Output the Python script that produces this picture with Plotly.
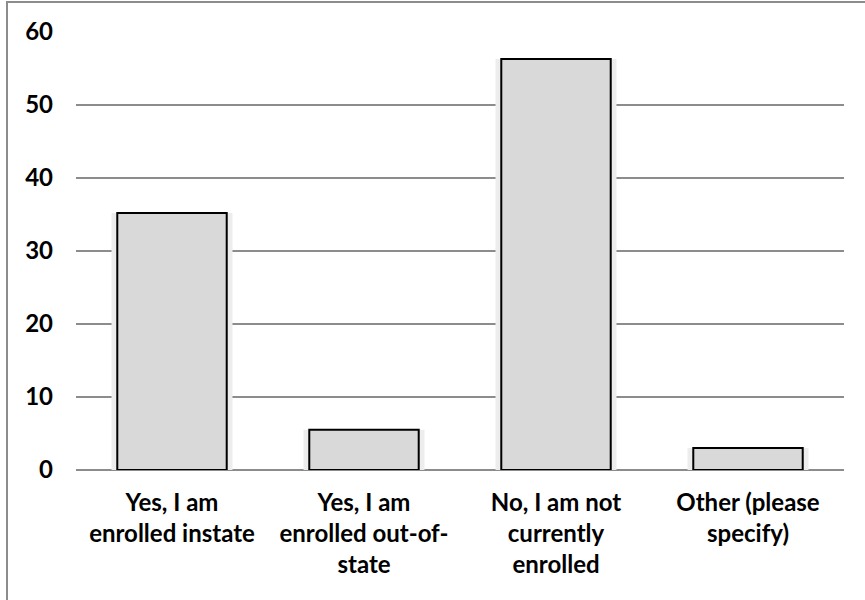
import plotly.graph_objects as go

categories = [
    "Yes, I am<br>enrolled instate",
    "Yes, I am<br>enrolled out-of-<br>state",
    "No, I am not<br>currently<br>enrolled",
    "Other (please<br>specify)",
]
values = [35.2, 5.5, 56.3, 3.0]
y_ticks = [0, 10, 20, 30, 40, 50, 60]

W, H = 865, 600
L, R, T, B = 76, 21, 32, 130
pw, ph = W - L - R, H - T - B
label_font = dict(size=24, family="Lato", weight="bold", color="black")

fig = go.Figure()

# soft shadow behind the bars
fig.add_trace(go.Bar(
    x=categories, y=values, width=0.63,
    marker=dict(color="#ededed", line=dict(width=0)),
    hoverinfo="skip",
))
fig.add_trace(go.Bar(
    x=categories, y=values, width=0.57,
    marker=dict(color="#d9d9d9", line=dict(color="black", width=2)),
))

fig.update_layout(
    width=W, height=H,
    margin=dict(l=L, r=R, t=T, b=B),
    barmode="overlay",
    showlegend=False,
    plot_bgcolor="white",
    paper_bgcolor="white",
    font=dict(family="Lato", size=24, color="black"),
    xaxis=dict(
        showgrid=False, showline=False, ticks="", automargin=False,
        ticklabelstandoff=16, tickfont=label_font,
    ),
    yaxis=dict(
        range=[0, 60], tickvals=y_ticks, ticks="", automargin=False,
        showgrid=True, gridcolor="#8c8c8c", gridwidth=2,
        zeroline=True, zerolinecolor="#8c8c8c", zerolinewidth=2,
        showline=False, ticklabelstandoff=22, tickfont=label_font,
    ),
    shapes=[dict(
        type="rect", xref="paper", yref="paper",
        x0=(7 - L) / pw, x1=(870 - L) / pw,
        y0=-(610 - T - ph) / ph, y1=1 + (T - 2) / ph,
        line=dict(color="#8c8c8c", width=2),
    )],
)

# drop the browser's default page margin so the figure sits at (0, 0)
fig.write_html(
    "out.html",
    config={"displayModeBar": False},
    post_script="document.body.style.margin='0';",
)
